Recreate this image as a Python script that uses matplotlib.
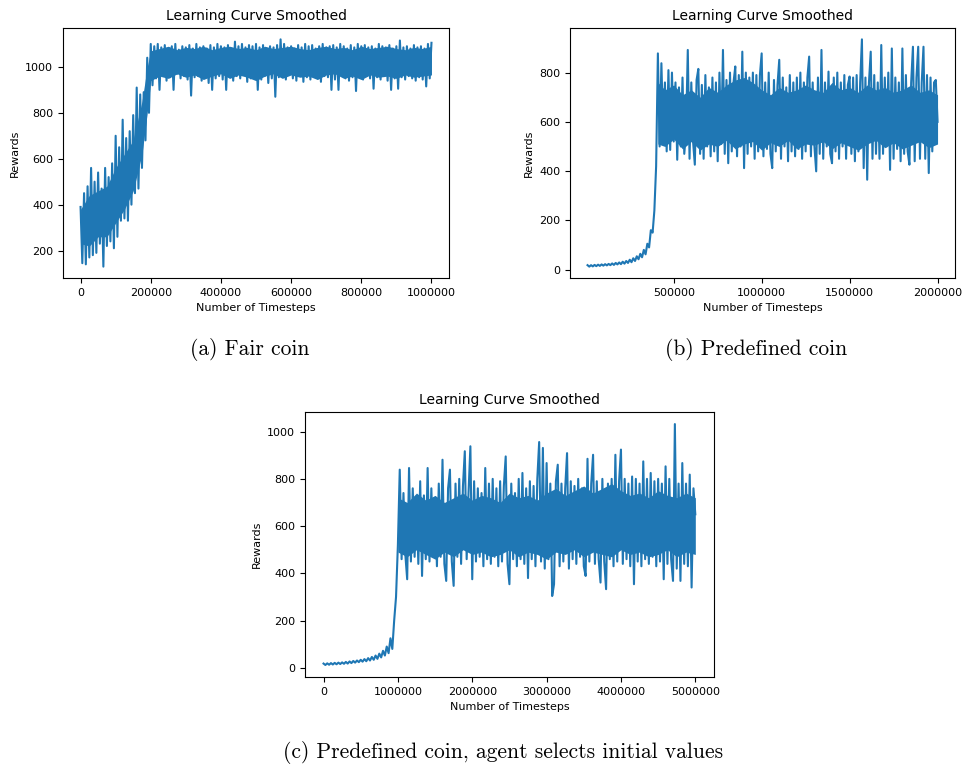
"""
Three learning curves (smoothed rewards vs. timesteps) with LaTeX-style captions.
Output: out.png
"""

import matplotlib
matplotlib.use("Agg")
import matplotlib.pyplot as plt
import numpy as np

# ── data ─────────────────────────────────────────────────────────────────────
# (a) fair coin, timesteps 0 .. 1 000 000 every 5 000
rewards_a = [
    390, 145, 450, 140, 480, 170, 560, 180, 500, 190,
    540, 230, 470, 130, 560, 220, 520, 240, 580, 210,
    700, 260, 650, 330, 770, 340, 690, 330, 720, 400,
    790, 450, 910, 470, 880, 560, 890, 680, 1040, 800,
    1100, 920,
    1090, 950, 1100, 900, 1085, 960, 1095, 940, 1080, 955,
    1090, 900, 1100, 970, 1075, 950, 1090, 960, 1085, 945,
    1095, 875, 1080, 955, 1100, 960, 1085, 940, 1090, 965,
    1080, 930, 1095, 900, 1085, 950, 1100, 960, 1090, 945,
    1085, 900, 1095, 955, 1080, 940, 1110, 960, 1090, 950,
    1100, 965, 1085, 935, 1095, 950, 1090, 960, 1100, 900,
    1085, 945, 1095, 960, 1080, 930, 1090, 950, 1085, 870,
    1095, 955, 1120, 960, 1100, 945, 1085, 965, 1090, 950,
    1080, 940, 1095, 960, 1085, 935, 1100, 955, 1090, 945,
    1095, 960, 1080, 950, 1090, 935, 1100, 960, 1085, 955,
    1090, 900, 1095, 945, 1085, 900, 1100, 960, 1090, 950,
    1080, 940, 1095, 955, 1085, 895, 1100, 960, 1090, 945,
    1095, 960, 1085, 950, 1090, 905, 1080, 955, 1100, 945,
    1090, 960, 1085, 940, 1095, 900, 1080, 950, 1090, 905,
    1115, 955, 1085, 945, 1090, 960, 1080, 950, 1095, 940,
    1085, 955, 1090, 945, 1080, 915, 1100, 950, 1105,
]
# dense core of the noise band in (a)
core_a_steps = [0, 25000, 50000, 75000, 100000, 125000, 150000, 175000,
                190000, 200000] + list(range(225000, 1000001, 25000))
core_a_low = [230, 220, 260, 260, 320, 380, 460, 620, 800, 940,
              960, 950, 970, 955, 965, 945, 960, 970, 950, 965,
              955, 940, 960, 970, 950, 965, 955, 960, 945, 965,
              970, 950, 960, 945, 965, 955, 960, 950, 965, 955,
              960, 965]
core_a_high = [380, 440, 460, 480, 560, 620, 680, 850, 1000, 1070,
               1080, 1090, 1075, 1085, 1080, 1090, 1075, 1085, 1090, 1080,
               1085, 1075, 1090, 1080, 1085, 1090, 1080, 1075, 1085, 1090,
               1080, 1085, 1075, 1090, 1080, 1085, 1090, 1080, 1075, 1085,
               1080, 1090]

# (b) predefined coin, timesteps 10 000 .. 2 000 000 every 10 000
rewards_b = [
    18, 12, 18, 13, 19, 14, 20, 15, 21, 16,
    22, 17, 23, 18, 25, 19, 27, 21, 29, 22,
    32, 24, 35, 27, 40, 30, 46, 35, 54, 42,
    64, 50, 80, 62, 105, 90, 160, 150, 240, 420,
    878, 500, 838, 560, 760, 480, 810, 486, 800, 520,
    760, 446, 740, 500, 780, 470, 560, 892, 450, 760,
    520, 426, 770, 815, 470, 750, 450, 790, 500, 740,
    460, 780, 480, 760, 440, 800, 510, 892, 470, 770,
    432, 800, 480, 760, 825, 460, 790, 500, 885, 412,
    800, 470, 780, 500, 800, 450, 790, 480, 790, 878,
    460, 760, 490, 800, 470, 412, 770, 480, 750, 852,
    450, 780, 500, 740, 440, 790, 480, 760, 460, 780,
    490, 800, 450, 760, 480, 780, 865, 460, 760, 500,
    399, 780, 470, 892, 450, 760, 500, 804, 470, 432,
    780, 480, 800, 450, 760, 500, 790, 450, 750, 784,
    470, 780, 440, 790, 480, 760, 935, 412, 780, 365,
    760, 885, 450, 790, 470, 760, 450, 912, 470, 780,
    500, 800, 405, 898, 450, 780, 490, 760, 440, 898,
    470, 790, 480, 426, 760, 905, 440, 780, 905, 450,
    760, 905, 450, 790, 392, 780, 480, 760, 770, 600,
]
core_b_steps = [410000] + list(range(450000, 2000001, 50000))
core_b_low = [510, 500, 530, 490, 520, 485, 510, 500, 525, 490,
              510, 520, 485, 515, 500, 525, 490, 510, 505, 520,
              490, 515, 500, 485, 510, 525, 495, 515, 490, 505,
              520, 495, 510]
core_b_high = [760, 730, 750, 710, 730, 700, 740, 720, 750, 770,
               780, 760, 730, 710, 740, 720, 730, 750, 730, 720,
               760, 730, 740, 720, 750, 730, 740, 720, 730, 750,
               720, 730, 710]

# (c) agent selects initial values, timesteps 0 .. 5 000 000 every 25 000
rewards_c = [
    18, 12, 19, 13, 20, 14, 21, 15, 22, 16,
    23, 17, 25, 18, 27, 20, 29, 22, 31, 24,
    34, 26, 37, 28, 41, 31, 46, 34, 52, 38,
    60, 44, 72, 52, 90, 62, 125, 80, 200, 300,
    520, 839, 460, 740, 480, 375, 846, 450,
    760, 470, 720, 440, 790, 389, 730, 460,
    846, 450, 760, 480, 720, 430, 780, 470,
    881, 440, 368, 760, 839, 450, 347, 780,
    470, 800, 440, 770, 917, 460, 740, 938,
    375, 790, 450, 760, 470, 740, 430, 846,
    460, 780, 440, 800, 470, 760, 430, 790,
    450, 770, 895, 440, 354, 780, 460, 740,
    430, 800, 460, 825, 440, 760, 380, 790,
    460, 770, 430, 800, 956, 450, 931, 420,
    867, 460, 780, 304, 354, 790, 860, 430,
    780, 450, 760, 909, 420, 790, 460, 770,
    440, 800, 470, 760, 430, 389, 885, 450,
    780, 902, 440, 790, 460, 361, 800, 450,
    333, 780, 460, 800, 430, 902, 450, 790,
    924, 440, 800, 460, 780, 430, 810, 354,
    800, 450, 780, 430, 874, 460, 800, 440,
    825, 470, 790, 430, 800, 450, 780, 375,
    853, 440, 800, 460, 368, 1032, 420, 780,
    368, 867, 440, 780, 430, 818, 340, 760,
    650,
]
core_c_steps = list(range(1000000, 5000001, 125000))
core_c_low = [490, 470, 500, 480, 460, 490, 470, 500, 480, 490,
              470, 480, 500, 470, 490, 480, 460, 490, 480, 500,
              470, 490, 480, 470, 500, 480, 490, 470, 480, 500,
              470, 490, 480]
core_c_high = [720, 700, 740, 710, 730, 700, 720, 740, 710, 730,
               720, 700, 740, 720, 730, 710, 740, 760, 730, 750,
               770, 740, 760, 780, 750, 730, 740, 720, 750, 730,
               720, 740, 720]

steps_a = np.linspace(0, 1000000, len(rewards_a))
steps_b = np.linspace(10000, 2000000, len(rewards_b))
steps_c = np.linspace(0, 5000000, len(rewards_c))

captions = ["(a) Fair coin", "(b) Predefined coin",
            "(c) Predefined coin, agent selects initial values"]

# ── plot ─────────────────────────────────────────────────────────────────────
BLUE = "#1f77b4"

fig = plt.figure(figsize=(9.65, 7.69), dpi=100)
fig.patch.set_facecolor("white")

ax_a = fig.add_axes([0.0653, 0.6385, 0.400, 0.3251])
ax_b = fig.add_axes([0.5907, 0.6385, 0.399, 0.3251])
ax_c = fig.add_axes([0.3160, 0.1196, 0.4238, 0.3446])

panels = [
    (ax_a, steps_a, rewards_a, core_a_steps, core_a_low, core_a_high),
    (ax_b, steps_b, rewards_b, core_b_steps, core_b_low, core_b_high),
    (ax_c, steps_c, rewards_c, core_c_steps, core_c_low, core_c_high),
]
for ax, x, y, cx, clo, chi in panels:
    ax.fill_between(cx, clo, chi, color=BLUE, lw=0, zorder=1)
    ax.plot(x, y, color=BLUE, lw=1.5, zorder=2)
    ax.set_title("Learning Curve Smoothed", fontsize=10)
    ax.set_xlabel("Number of Timesteps", fontsize=8)
    ax.set_ylabel("Rewards", fontsize=8)
    ax.ticklabel_format(style="plain", useOffset=False)
    ax.tick_params(labelsize=8)

ax_a.set_yticks([200, 400, 600, 800, 1000])
ax_b.set_xticks([500000, 1000000, 1500000, 2000000])
ax_b.set_yticks([0, 200, 400, 600, 800])
ax_c.set_yticks([0, 200, 400, 600, 800, 1000])

for (cx, cy), text in zip([(0.259, 0.545), (0.784, 0.545), (0.521, 0.022)],
                          captions):
    fig.text(cx, cy, text, ha="center", va="center",
             fontsize=15.5, family="cmr10")

plt.savefig("out.png", dpi=100, facecolor="white")
